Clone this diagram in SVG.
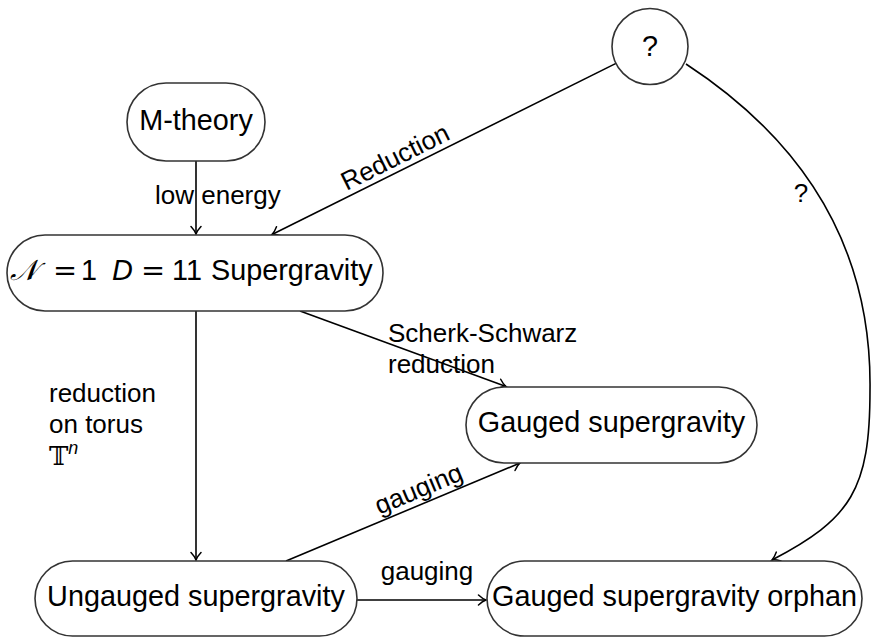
<svg xmlns="http://www.w3.org/2000/svg" width="882" height="637" viewBox="0 0 882 637">
<style>
  .node { fill: #ffffff; stroke: #333333; stroke-width: 1.6; }
  .nt { font-family: "Liberation Sans", Arial, sans-serif; font-size: 28.8px; fill: #000; text-anchor: middle; }
  .nts { font-family: "Liberation Sans", Arial, sans-serif; font-size: 28.8px; fill: #000; text-anchor: start; }
  .lbl { font-family: "Liberation Sans", Arial, sans-serif; font-size: 26px; fill: #000; }
  .edge { fill: none; stroke: #000; stroke-width: 1.6; }
  .math { font-family: "DejaVu Serif", "Liberation Serif", serif; }
</style>
<defs>
  <marker id="arr" viewBox="-10 -7 12 14" refX="0" refY="0" markerWidth="12" markerHeight="14" markerUnits="userSpaceOnUse" orient="auto">
    <path d="M-7.5,-5 C-4.5,-2.2 -1.8,-0.6 0,0 C-1.8,0.6 -4.5,2.2 -7.5,5" fill="none" stroke="#000" stroke-width="1.5" stroke-linecap="round"/>
  </marker>
</defs>

<g id="connectors">
  <g id="e-mtheory-sugra">
    <line class="edge" x1="196" y1="161" x2="196" y2="234" marker-end="url(#arr)"/>
    <text class="lbl" x="155" y="204">low energy</text>
  </g>
  <g id="e-q-sugra">
    <line class="edge" x1="616" y1="63.4" x2="272" y2="234.5" marker-end="url(#arr)"/>
    <text class="lbl" text-anchor="middle" transform="translate(399,165) rotate(-26.47)">Reduction</text>
  </g>
  <g id="e-q-orphan">
    <path class="edge" d="M686,64 C796,136 872,240 870,390 C870,490 851,518.7 772,560" marker-end="url(#arr)"/>
    <text class="lbl" x="801" y="202" text-anchor="middle">?</text>
  </g>
  <g id="e-sugra-gauged">
    <line class="edge" x1="300" y1="311" x2="506" y2="386.5" marker-end="url(#arr)"/>
    <text class="lbl" x="388" y="342">Scherk-Schwarz</text>
    <text class="lbl" x="388" y="373">reduction</text>
  </g>
  <g id="e-sugra-ungauged">
    <line class="edge" x1="196" y1="311" x2="196" y2="560" marker-end="url(#arr)"/>
    <text class="lbl" x="49" y="402">reduction</text>
    <text class="lbl" x="49" y="433">on torus</text>
    <text class="lbl" x="49" y="465"><tspan class="math">𝕋</tspan><tspan font-style="italic" font-size="18px" dy="-11">n</tspan></text>
  </g>
  <g id="e-ungauged-gauged">
    <line class="edge" x1="286" y1="561" x2="520" y2="463" marker-end="url(#arr)"/>
    <text class="lbl" text-anchor="middle" transform="translate(422,497) rotate(-22.66)">gauging</text>
  </g>
  <g id="e-ungauged-orphan">
    <line class="edge" x1="357" y1="600" x2="486" y2="600" marker-end="url(#arr)"/>
    <text class="lbl" x="427" y="580" text-anchor="middle">gauging</text>
  </g>
</g>

<g id="mtheory">
  <rect class="node" x="127" y="83" width="138" height="78" rx="39" ry="39"/>
  <text class="nt" x="196" y="130">M-theory</text>
</g>

<g id="question">
  <circle class="node" cx="650" cy="46.5" r="38"/>
  <text class="nt" x="650" y="56">?</text>
</g>

<g id="sugra">
  <rect class="node" x="7" y="235" width="376" height="76" rx="38" ry="38"/>
  <text class="nts" y="280"><tspan x="10" class="math" font-style="italic">𝒩</tspan><tspan x="53" class="math">=</tspan><tspan x="81">1</tspan><tspan x="112" font-style="italic">D</tspan><tspan x="141" class="math">=</tspan><tspan x="172">11</tspan><tspan x="211">Supergravity</tspan></text>
</g>

<g id="gauged">
  <rect class="node" x="466" y="387" width="291" height="76" rx="38" ry="38"/>
  <text class="nt" x="611.5" y="432">Gauged supergravity</text>
</g>

<g id="ungauged">
  <rect class="node" x="35" y="561" width="322" height="75" rx="37.5" ry="37.5"/>
  <text class="nt" x="196" y="605.5">Ungauged supergravity</text>
</g>

<g id="orphan">
  <rect class="node" x="487" y="561" width="375" height="75" rx="37.5" ry="37.5"/>
  <text class="nt" x="674.5" y="605.5">Gauged supergravity orphan</text>
</g>
</svg>
